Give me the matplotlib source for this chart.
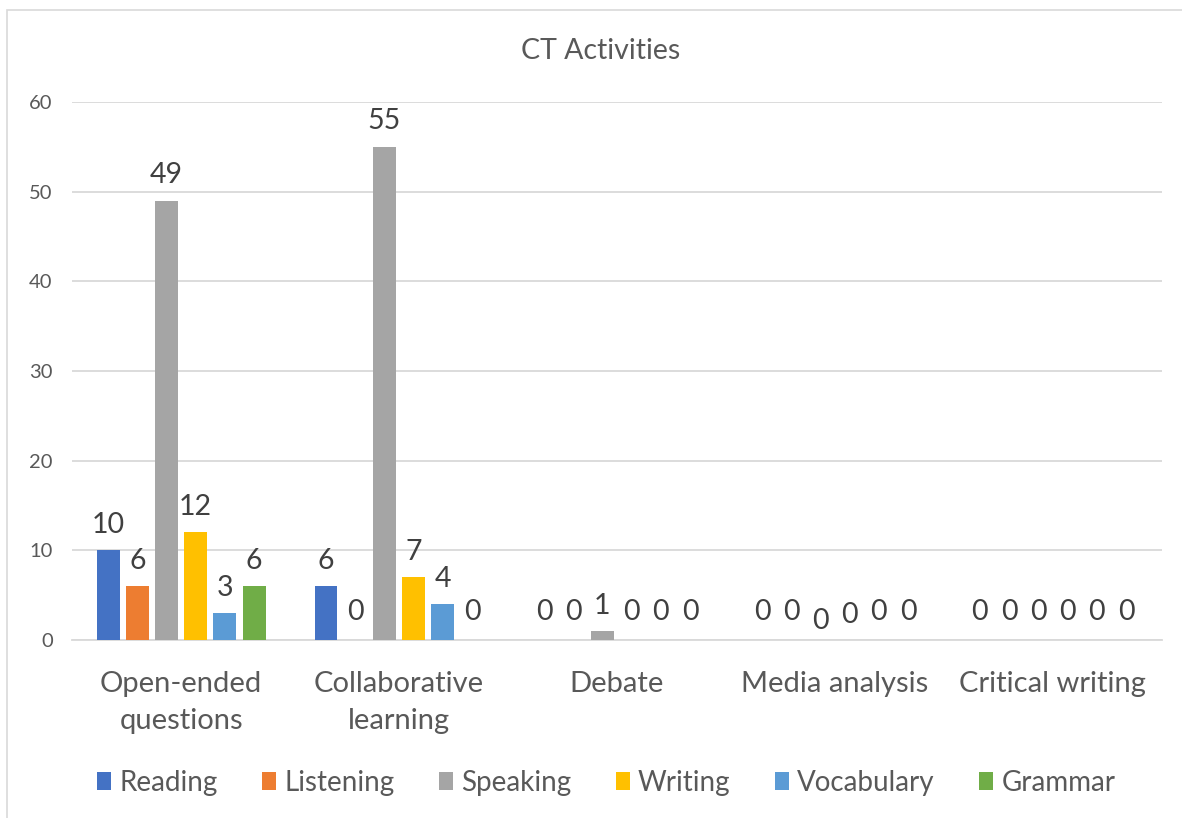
import numpy as np
import matplotlib.pyplot as plt
from matplotlib.patches import Rectangle

plt.rcParams['font.family'] = ['Lato', 'DejaVu Sans']

categories = ['Open-ended\nquestions', 'Collaborative\nlearning', 'Debate',
              'Media analysis', 'Critical writing']
series = ['Reading', 'Listening', 'Speaking', 'Writing', 'Vocabulary', 'Grammar']
colors = ['#4472C4', '#ED7D31', '#A5A5A5', '#FFC000', '#5B9BD5', '#70AD47']

reading = [10, 6, 0, 0, 0]
listening = [6, 0, 0, 0, 0]
speaking = [49, 55, 1, 0, 0]
writing = [12, 7, 0, 0, 0]
vocabulary = [3, 4, 0, 0, 0]
grammar = [6, 0, 0, 0, 0]
values = [reading, listening, speaking, writing, vocabulary, grammar]

fig = plt.figure(figsize=(11.82, 8.18), dpi=100)
ax = fig.add_axes([0.061, 0.2176, 0.922, 0.6577])

# chart border
fig.patches.append(Rectangle((7 / 1182, -0.05), 1.1, 1 - 10 / 818 + 0.05,
                             transform=fig.transFigure, fill=False,
                             edgecolor='#D9D9D9', linewidth=1.2))

x = np.arange(len(categories))
slot = 0.134
width = 0.105

# Excel nudges overlapping zero labels in "Media analysis"
nudge = {(3, 2): -7, (3, 3): -2}

for i, (name, vals, c) in enumerate(zip(series, values, colors)):
    pos = x + (i - 2.5) * slot
    ax.bar(pos, vals, width, color=c, label=name, zorder=3)
    for j, (p, v) in enumerate(zip(pos, vals)):
        off = 9 if v > 0 else 11
        ax.annotate(str(v), (p, v), xytext=(0, off + nudge.get((j, i), 0)),
                    textcoords='offset points', ha='center', va='bottom',
                    fontsize=20.5, color='#404040')

ax.set_xlim(-0.5, len(categories) - 0.5)
ax.set_ylim(0, 60)
ax.set_yticks(range(0, 61, 10))
ax.yaxis.grid(True, color='#D9D9D9', linewidth=1.3, zorder=0)
ax.set_axisbelow(True)
for s in ['top', 'right', 'left']:
    ax.spines[s].set_visible(False)
ax.spines['bottom'].set_color('#D9D9D9')
ax.spines['bottom'].set_linewidth(1.3)
ax.tick_params(axis='both', length=0, colors='#595959')
ax.tick_params(axis='y', labelsize=14.5, pad=14)
ax.set_xticks(x)
ax.set_xticklabels(categories, fontsize=21, color='#595959', linespacing=1.55)
ax.tick_params(axis='x', pad=22)

fig.text(0.508, 0.938, 'CT Activities', ha='center', va='center',
         fontsize=20.5, color='#595959')

fig.legend(loc='center', bbox_to_anchor=(0.513, 0.043), ncol=6, frameon=False,
           fontsize=20, handlelength=0.5, handleheight=0.65, handletextpad=0.3,
           columnspacing=1.6, labelcolor='#595959')

fig.savefig('out.png', dpi=100)
